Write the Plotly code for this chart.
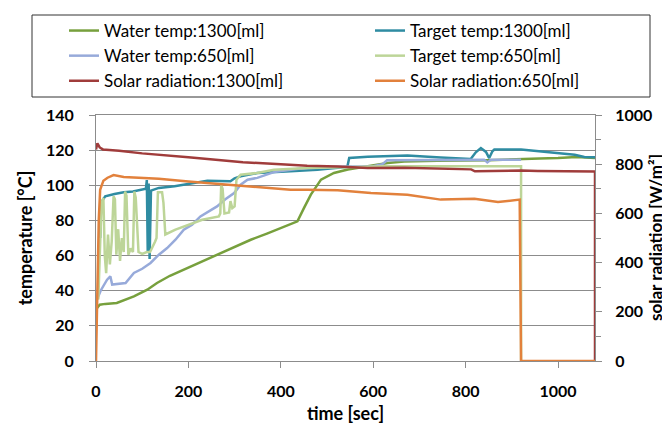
import plotly.graph_objects as go

# ---------------- data ----------------
x_ticks = [0, 200, 400, 600, 800, 1000]
y_ticks = [0, 20, 40, 60, 80, 100, 120, 140]
y2_ticks = [0, 200, 400, 600, 800, 1000]

names = ["Water temp:1300[ml]", "Target temp:1300[ml]", "Water temp:650[ml]",
         "Target temp:650[ml]", "Solar radiation:1300[ml]", "Solar radiation:650[ml]"]

water1300_t = [0, 2, 8, 20, 45, 82, 111, 132, 160, 190, 230, 262, 300, 335, 370, 400, 420,
               436, 450, 465, 487, 515, 545, 566, 631, 667, 739, 850, 920, 960, 1000, 1040, 1080]
water1300_v = [27.3, 30, 32, 32.5, 33, 36.8, 40.6, 44.4, 48.5, 52, 56.5, 60.5, 65, 69, 72.5, 75.7, 77.5,
               79.5, 87, 94.7, 103.2, 107, 109, 110, 112.7, 113.5, 114, 114.3, 114.6, 115.2, 115.5, 116.1, 115.5]

target1300_t = [9, 10, 13, 20, 40, 60, 80, 100, 108, 110, 112, 114, 116, 119, 136, 170, 201, 241, 291,
                300, 313, 349, 421, 479, 544, 548, 588, 674, 746, 811, 822, 833, 844, 851, 858, 862,
                920, 963, 992, 1036, 1057, 1080]
target1300_v = [70, 82, 91, 93.7, 95, 96, 96.5, 97.5, 98, 103, 62, 101, 58, 97, 98.5, 99.5, 100.7, 102.6, 102.3,
                104, 105.1, 107, 108, 108.9, 110.5, 115.5, 116.3, 117, 115.8, 115, 118.8, 121.2, 119, 115.5,
                119.4, 120.3, 120.3, 119.3, 118.8, 117.4, 116.1, 116]

water650_t = [2, 10, 24, 31, 35, 50, 64, 82, 100, 118, 136, 154, 172, 190, 208, 226, 244, 262, 280,
              299, 313, 328, 349, 385, 443, 520, 600, 620, 630, 840, 847, 855, 920]
water650_v = [34.9, 40, 46.3, 48.2, 43.5, 44, 44.4, 50.1, 52.5, 55.8, 60.5, 64.3, 69, 74.7, 77.6, 82.3, 85, 88, 92,
              95.6, 100.3, 103.2, 104.2, 107.5, 109.5, 110.5, 110.8, 112, 114.2, 114.6, 113, 114.6, 114.6]

target650_t = [5, 9, 12, 16, 19, 22, 26, 30, 34, 38, 41, 44, 48, 52, 56, 60, 63, 66, 70, 75, 80, 83, 86,
               92, 100, 110, 117, 128, 131, 134, 143, 146, 150, 172, 208, 230, 266, 269, 271, 274, 278,
               288, 291, 295, 300, 304, 313, 349, 385, 457, 588, 624, 920, 920]
target650_v = [35, 65, 90, 92.8, 60, 50, 72, 55, 68, 93.7, 92, 60.5, 75, 57, 70, 62, 96.4, 94, 60.5, 64, 62, 96.4, 93,
               62, 61, 62, 62, 68, 70, 96, 96, 90, 72, 74.8, 78.5, 80.4, 82.3, 84, 100, 98, 84,
               84.5, 91, 87, 88, 103.2, 106, 107, 108.9, 109.8, 110.5, 110.8, 110.8, 0]

solar1300_t = [0, 3, 8, 15, 50, 100, 200, 241, 300, 318, 400, 457, 523, 588, 667, 812, 820, 920,
               956, 1028, 1080, 1080]
solar1300_v = [860, 885, 868, 860, 855, 844, 828, 822, 812, 808, 800, 794, 791, 785, 786, 779, 771, 774,
               772, 771, 770, 0]

solar650_t = [0, 3, 6, 9, 16, 25, 38, 60, 100, 136, 200, 241, 309, 421, 457, 523, 595, 674, 746,
              819, 870, 917, 920, 1080]
solar650_v = [0, 300, 574, 696, 733, 745, 756, 748, 745, 741, 730, 724, 712, 696, 696, 694, 683, 676, 656,
              660, 646, 656, 0, 0]

colors = ["#77A03D", "#2F8CA2", "#97AADA", "#BDD598", "#A03C3B", "#E2813C"]

# ---------------- figure ----------------
W, H = 670, 423
L, R, T, B = 88, 83, 107, 70
pw, ph = W - L - R, H - T - B

def px_x(p):
    return (p - L) / pw

def px_y(p):
    return 1 + (T - p) / ph

FONT = "Lato, 'Open Sans', sans-serif"
fig = go.Figure()
series = [(water1300_t, water1300_v, "y"), (target1300_t, target1300_v, "y"),
          (water650_t, water650_v, "y"), (target650_t, target650_v, "y"),
          (solar1300_t, solar1300_v, "y2"), (solar650_t, solar650_v, "y2")]
for i, ((t, v, ax), nm, c) in enumerate(zip(series, names, colors)):
    fig.add_trace(go.Scatter(x=t, y=v, name=nm, mode="lines", yaxis=ax,
                             legend="legend" if i % 2 == 0 else "legend2",
                             legendgroup=f"g{i}",
                             line=dict(color=c, width=2.5)))

axis_col = "#8C8C8C"
leg_common = dict(orientation="v", yanchor="top", xanchor="left", bgcolor="rgba(0,0,0,0)",
                  borderwidth=0, font=dict(size=17, family=FONT), traceorder="normal",
                  tracegroupgap=2, itemwidth=30)
fig.update_layout(
    width=W, height=H, margin=dict(l=L, r=R, t=T, b=B, autoexpand=False),
    paper_bgcolor="white", plot_bgcolor="white",
    font=dict(family=FONT, color="black", size=16),
    showlegend=True,
    legend=dict(x=px_x(56), y=px_y(5), **leg_common),
    legend2=dict(x=px_x(362), y=px_y(5), **leg_common),
    xaxis=dict(range=[0, 1080], tickvals=x_ticks, showgrid=False, zeroline=False,
               showline=True, linecolor=axis_col, linewidth=1, mirror=True,
               ticks="outside", ticklen=6, tickcolor=axis_col,
               tickfont=dict(size=16, family=FONT, weight="bold"), ticklabelstandoff=10,
               title=dict(text="time [sec]", font=dict(size=18, family=FONT, weight="bold"), standoff=8)),
    yaxis=dict(range=[0, 140], tickvals=y_ticks, showgrid=True, gridcolor=axis_col, gridwidth=1,
               zeroline=False, showline=True, linecolor=axis_col, linewidth=1, mirror=True,
               ticks="outside", ticklen=6, tickcolor=axis_col,
               tickfont=dict(size=16, family=FONT, weight="bold"), ticklabelstandoff=12,
               title=dict(text="temperature [°C]", font=dict(size=18, family=FONT, weight="bold"), standoff=8)),
    yaxis2=dict(range=[0, 1000], tickvals=y2_ticks, overlaying="y", side="right", showgrid=False,
                zeroline=False, showline=True, linecolor=axis_col, linewidth=1,
                ticks="outside", ticklen=6, tickcolor=axis_col,
                minor=dict(dtick=100, ticks="outside", ticklen=5, tickcolor=axis_col),
                tickfont=dict(size=16, family=FONT, weight="bold"), ticklabelstandoff=10),
    annotations=[dict(text="solar radiation [W/m²]", textangle=-90, xref="paper", yref="paper",
                      x=px_x(647), y=0.5, xanchor="center", yanchor="middle", showarrow=False,
                      font=dict(size=17, family=FONT, weight="bold"))],
    shapes=[dict(type="rect", xref="paper", yref="paper",
                 x0=px_x(24), x1=px_x(642), y0=px_y(89), y1=px_y(7),
                 line=dict(color="#333333", width=1), fillcolor="rgba(0,0,0,0)", layer="below")],
)

fig.write_html("out.html")
